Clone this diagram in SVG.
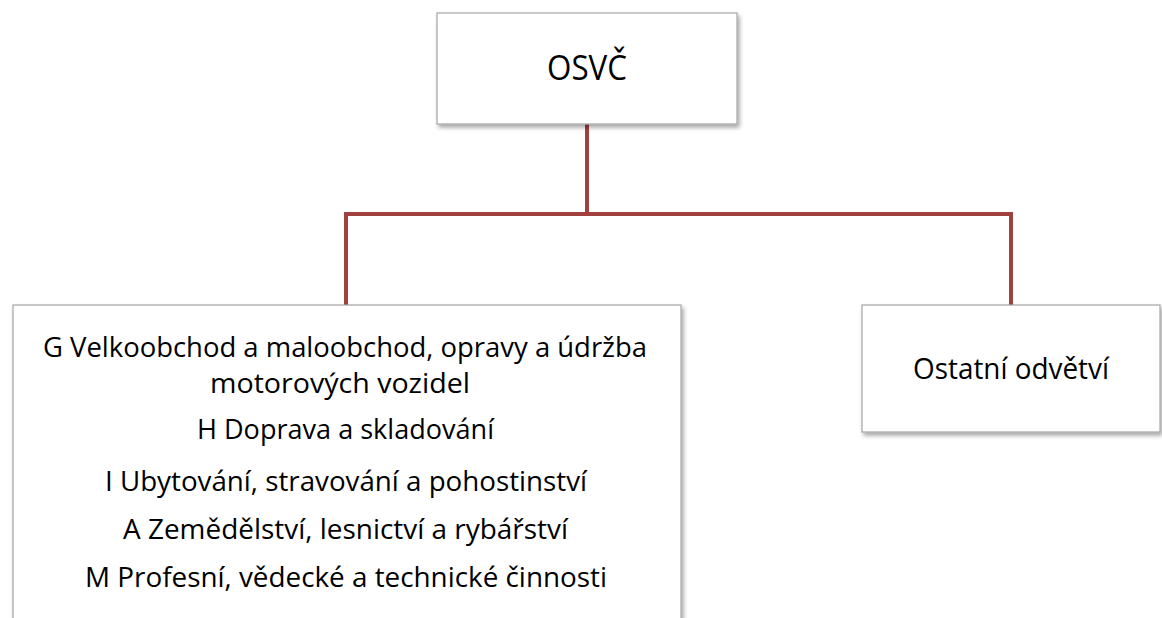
<svg xmlns="http://www.w3.org/2000/svg" width="1162" height="618" viewBox="0 0 1162 618">
  <defs>
    <filter id="shadow" x="-5%" y="-5%" width="115%" height="120%">
      <feDropShadow dx="2" dy="3" stdDeviation="2" flood-color="#000" flood-opacity="0.35"/>
    </filter>
    <style>
      .box { fill: #ffffff; stroke: #a6a6a6; stroke-width: 1.2; filter: url(#shadow); }
      .lbl { font-family: "Open Sans", "Noto Sans", "Liberation Sans", sans-serif; fill: #000000; text-anchor: middle; }
      .conn { fill: none; stroke: #a0403f; stroke-width: 4; stroke-linejoin: miter; }
    </style>
  </defs>
  <rect width="1162" height="618" fill="#ffffff"/>

  <!-- connectors -->
  <g id="connectors">
    <path class="conn" d="M587 124 V214"/>
    <path class="conn" d="M346 305 V214 H1011 V305"/>
  </g>

  <!-- root node -->
  <g id="node-osvc">
    <rect class="box" x="437" y="13" width="300" height="111"/>
    <text class="lbl" x="587" y="80" font-size="35" textLength="80" lengthAdjust="spacingAndGlyphs">OSVČ</text>
  </g>

  <!-- sector list node -->
  <g id="node-sektory">
    <rect class="box" x="13" y="305" width="668" height="340"/>
    <g class="lbl" font-size="27">
      <text x="345" y="357" textLength="604" lengthAdjust="spacingAndGlyphs">G Velkoobchod a maloobchod, opravy a údržba</text>
      <text x="340" y="393" textLength="260" lengthAdjust="spacingAndGlyphs">motorových vozidel</text>
      <text x="345.5" y="439" textLength="297" lengthAdjust="spacingAndGlyphs">H Doprava a skladování</text>
      <text x="346" y="491" textLength="482" lengthAdjust="spacingAndGlyphs">I Ubytování, stravování a pohostinství</text>
      <text x="345.5" y="539" textLength="445" lengthAdjust="spacingAndGlyphs">A Zemědělství, lesnictví a rybářství</text>
      <text x="346" y="587" textLength="522" lengthAdjust="spacingAndGlyphs">M Profesní, vědecké a technické činnosti</text>
    </g>
  </g>

  <!-- other sectors node -->
  <g id="node-ostatni">
    <rect class="box" x="862" y="305" width="298" height="127"/>
    <text class="lbl" x="1011" y="379" font-size="29" textLength="196" lengthAdjust="spacingAndGlyphs">Ostatní odvětví</text>
  </g>
</svg>
